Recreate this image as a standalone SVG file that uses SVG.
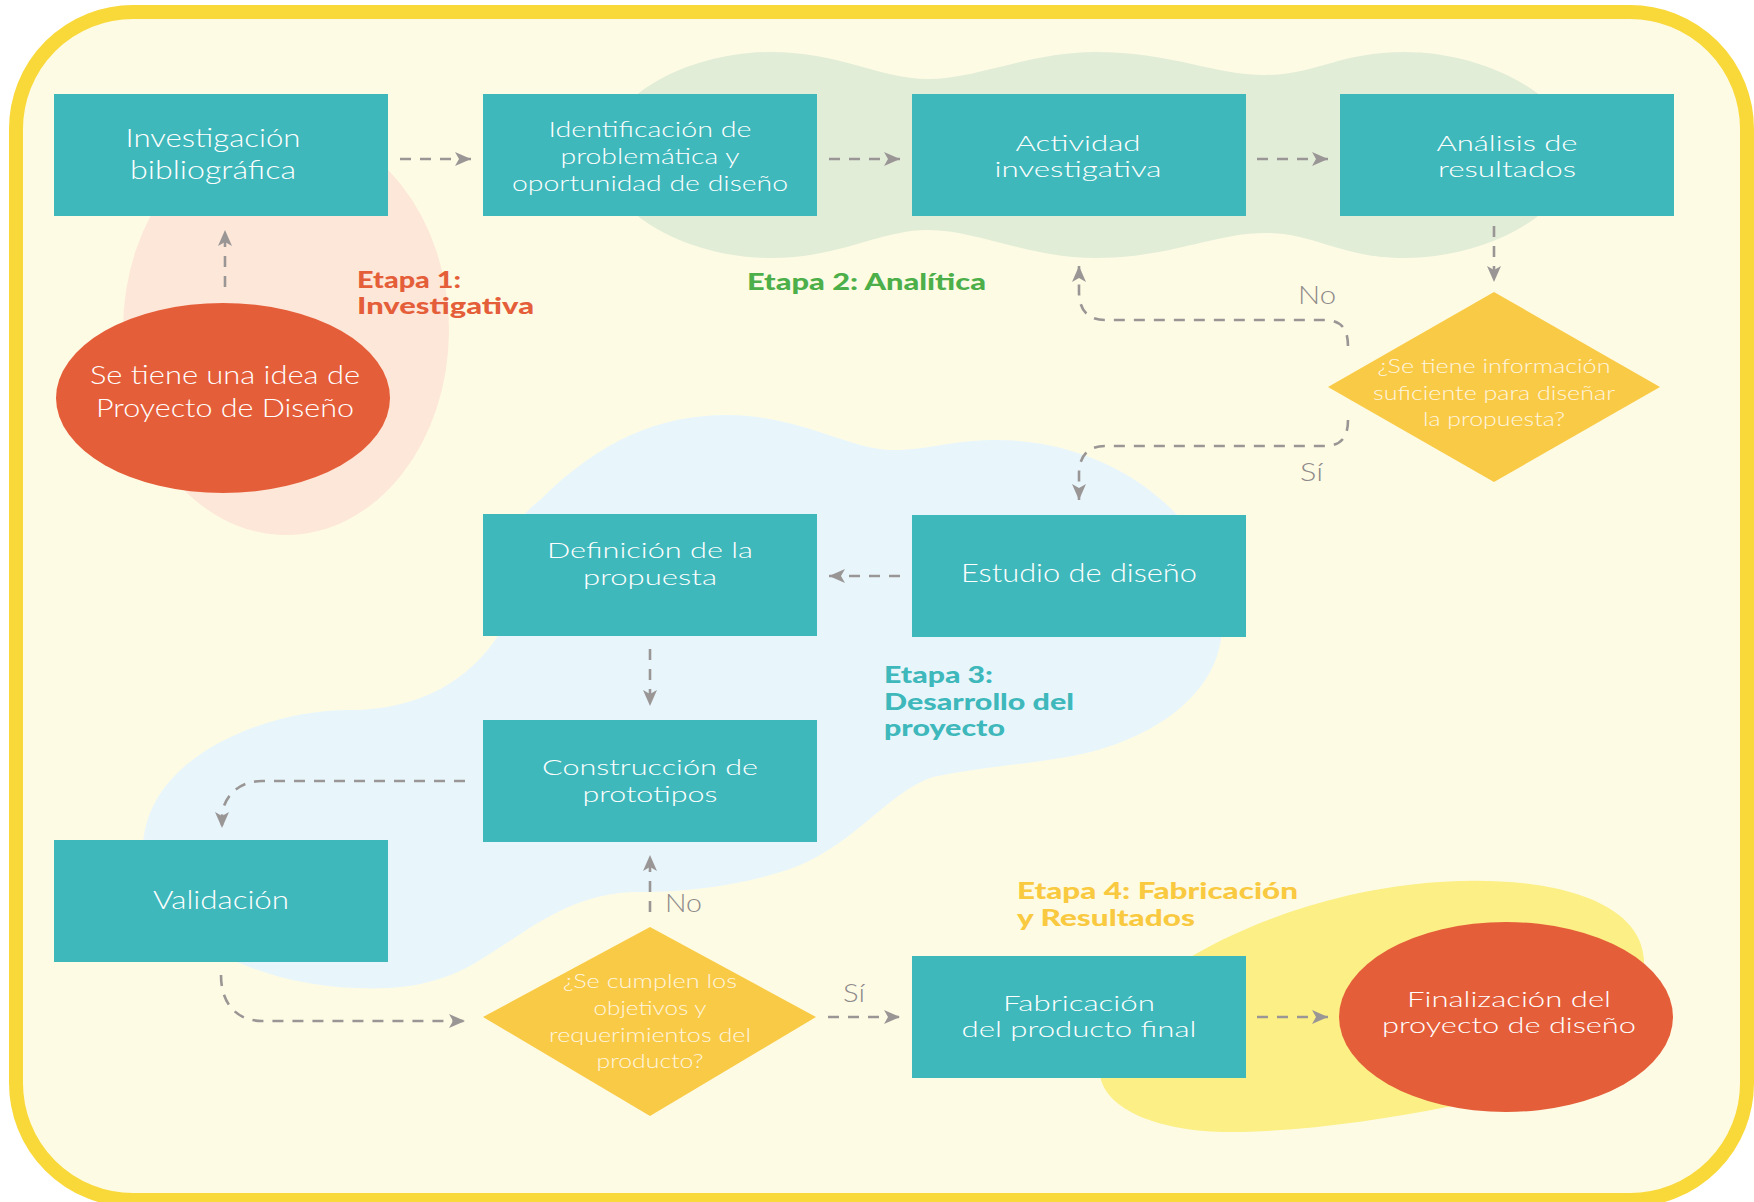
<svg xmlns="http://www.w3.org/2000/svg" width="1754" height="1202" viewBox="0 0 1754 1202">
<defs>
<style>
.box{fill:#3EB8BB}
.oval{fill:#E55E3A}
.dia{fill:#F9CA46}
.nt{font-family:Lato,'Open Sans','Noto Sans',sans-serif;font-weight:300;font-size:25px;fill:#FFFFFF;text-anchor:middle}
.ns{font-family:Lato,'Open Sans','Noto Sans',sans-serif;font-weight:300;font-size:22px;fill:#FFFFFF;text-anchor:middle}
.dt{font-family:Lato,'Open Sans','Noto Sans',sans-serif;font-weight:300;font-size:20px;fill:#FFF6E0;text-anchor:middle}
.lab{font-family:Lato,'Open Sans','Noto Sans',sans-serif;font-weight:300;font-size:25px;fill:#8E8A8A}
.stage{font-family:Lato,'Open Sans','Noto Sans',sans-serif;font-weight:900;font-size:22px}
.con{fill:none;stroke:#9A9696;stroke-width:2.6;stroke-dasharray:11 9;marker-end:url(#arr)}
</style>
<marker id="arr" markerUnits="userSpaceOnUse" markerWidth="18" markerHeight="14" refX="16" refY="7" orient="auto">
<path d="M0,0 L16,7 L0,14 L4,7 Z" fill="#9A9696"/>
</marker>
</defs>
<rect width="1754" height="1202" fill="#FFFFFF"/>
<rect x="16" y="12" width="1731" height="1188" rx="117" ry="117" fill="#FEFBE4" stroke="#F9D83A" stroke-width="14"/>

<g id="blobs">
<ellipse cx="286" cy="330" rx="163" ry="205" fill="#FDE7D8"/>
<path d="M604,155 C604,95 690,52 771,52 C840,52 880,79 928,79 C976,79 1030,52 1095,52 C1170,52 1215,75 1265,75 C1315,75 1340,52 1404,52 C1490,52 1575,100 1575,155 C1575,210 1490,258 1404,258 C1340,258 1315,233 1265,233 C1215,233 1170,258 1095,258 C1030,258 976,230 928,230 C880,230 840,258 771,258 C690,258 604,215 604,155 Z" fill="#E2EDD8"/>
<path d="M727,415 C800,415 850,450 893,450 C930,450 950,440 997,440 C1130,440 1230,540 1222,625 C1222,700 1140,745 1067,757 C1020,765 975,768 933,777 C890,790 850,850 787,870 C740,885 690,892 640,892 C570,892 530,930 480,960 C440,985 400,990 357,988 C250,985 143,930 143,850 C143,760 260,710 350,710 C420,710 470,680 500,633 C510,560 500,530 540,500 C600,440 660,415 727,415 Z" fill="#E8F6FC"/>
<path d="M1100,1075 C1090,1010 1200,930 1350,895 C1480,865 1640,880 1644,960 C1648,1040 1560,1090 1447,1107 C1380,1120 1300,1132 1230,1132 C1160,1132 1105,1110 1100,1075 Z" fill="#FBEF85"/>
</g>

<g id="stage-labels">
<text class="stage" fill="#E55E3A" x="357" y="288" textLength="104" lengthAdjust="spacingAndGlyphs">Etapa 1:</text>
<text class="stage" fill="#E55E3A" x="357" y="314" textLength="177" lengthAdjust="spacingAndGlyphs">Investigativa</text>
<text class="stage" fill="#4DAF4A" x="747" y="290" textLength="239" lengthAdjust="spacingAndGlyphs">Etapa 2: Analítica</text>
<text class="stage" fill="#3EB8BB" x="884" y="683" textLength="109" lengthAdjust="spacingAndGlyphs">Etapa 3:</text>
<text class="stage" fill="#3EB8BB" x="884" y="710" textLength="190" lengthAdjust="spacingAndGlyphs">Desarrollo del</text>
<text class="stage" fill="#3EB8BB" x="884" y="736" textLength="121" lengthAdjust="spacingAndGlyphs">proyecto</text>
<text class="stage" fill="#F9C940" x="1017" y="899" textLength="281" lengthAdjust="spacingAndGlyphs">Etapa 4: Fabricación</text>
<text class="stage" fill="#F9C940" x="1017" y="926" textLength="178" lengthAdjust="spacingAndGlyphs">y Resultados</text>
</g>

<g id="connectors">
<path class="con" d="M225,287 L225,230"/>
<path class="con" d="M400,159 L471,159"/>
<path class="con" d="M829,159 L900,159"/>
<path class="con" d="M1257,159 L1328,159"/>
<path class="con" d="M1494,226 L1494,282"/>
<path class="con" d="M1348,346 C1348,330 1342,320 1325,320 L1105,320 C1088,320 1079,310 1079,292 L1079,266"/>
<path class="con" d="M1348,420 C1348,436 1342,446 1325,446 L1105,446 C1088,446 1079,456 1079,474 L1079,500"/>
<path class="con" d="M900,576 L829,576"/>
<path class="con" d="M650,649 L650,706"/>
<path class="con" d="M465,781 L262,781 C238,781 222,798 222,818 L222,828"/>
<path class="con" d="M221,975 C221,1005 238,1021 262,1021 L465,1021"/>
<path class="con" d="M650,912 L650,855"/>
<path class="con" d="M828,1017 L900,1017"/>
<path class="con" d="M1257,1017 L1328,1017"/>
<text class="lab" x="1298" y="304" textLength="38" lengthAdjust="spacingAndGlyphs">No</text>
<text class="lab" x="1300" y="481" textLength="23" lengthAdjust="spacingAndGlyphs">Sí</text>
<text class="lab" x="665" y="912" textLength="37" lengthAdjust="spacingAndGlyphs">No</text>
<text class="lab" x="843" y="1002" textLength="22" lengthAdjust="spacingAndGlyphs">Sí</text>
</g>

<g id="n-idea">
<ellipse class="oval" cx="223" cy="398" rx="167" ry="95"/>
<text class="nt" font-size="26" x="225" y="384" textLength="270" lengthAdjust="spacingAndGlyphs">Se tiene una idea de</text>
<text class="nt" font-size="26" x="225" y="417" textLength="258" lengthAdjust="spacingAndGlyphs">Proyecto de Diseño</text>
</g>
<g id="n-investigacion">
<rect class="box" x="54" y="94" width="334" height="122"/>
<text class="nt" x="213" y="147" textLength="175" lengthAdjust="spacingAndGlyphs">Investigación</text>
<text class="nt" x="213" y="179" textLength="166" lengthAdjust="spacingAndGlyphs">bibliográfica</text>
</g>
<g id="n-identificacion">
<rect class="box" x="483" y="94" width="334" height="122"/>
<text class="ns" x="650" y="137" textLength="203" lengthAdjust="spacingAndGlyphs">Identificación de</text>
<text class="ns" x="650" y="164" textLength="179" lengthAdjust="spacingAndGlyphs">problemática y</text>
<text class="ns" x="650" y="191" textLength="276" lengthAdjust="spacingAndGlyphs">oportunidad de diseño</text>
</g>
<g id="n-actividad">
<rect class="box" x="912" y="94" width="334" height="122"/>
<text class="ns" x="1078" y="151" textLength="125" lengthAdjust="spacingAndGlyphs">Actividad</text>
<text class="ns" x="1078" y="177" textLength="167" lengthAdjust="spacingAndGlyphs">investigativa</text>
</g>
<g id="n-analisis">
<rect class="box" x="1340" y="94" width="334" height="122"/>
<text class="ns" x="1507" y="151" textLength="141" lengthAdjust="spacingAndGlyphs">Análisis de</text>
<text class="ns" x="1507" y="177" textLength="138" lengthAdjust="spacingAndGlyphs">resultados</text>
</g>
<g id="n-decision1">
<polygon class="dia" points="1494,292 1660,387 1494,482 1328,387"/>
<text class="dt" x="1494" y="373" textLength="233" lengthAdjust="spacingAndGlyphs">¿Se tiene información</text>
<text class="dt" x="1494" y="400" textLength="242" lengthAdjust="spacingAndGlyphs">suficiente para diseñar</text>
<text class="dt" x="1494" y="426" textLength="142" lengthAdjust="spacingAndGlyphs">la propuesta?</text>
</g>
<g id="n-estudio">
<rect class="box" x="912" y="515" width="334" height="122"/>
<text class="nt" x="1079" y="582" textLength="236" lengthAdjust="spacingAndGlyphs">Estudio de diseño</text>
</g>
<g id="n-definicion">
<rect class="box" x="483" y="514" width="334" height="122"/>
<text class="ns" x="650" y="558" textLength="206" lengthAdjust="spacingAndGlyphs">Definición de la</text>
<text class="ns" x="650" y="585" textLength="134" lengthAdjust="spacingAndGlyphs">propuesta</text>
</g>
<g id="n-construccion">
<rect class="box" x="483" y="720" width="334" height="122"/>
<text class="ns" x="650" y="775" textLength="216" lengthAdjust="spacingAndGlyphs">Construcción de</text>
<text class="ns" x="650" y="802" textLength="135" lengthAdjust="spacingAndGlyphs">prototipos</text>
</g>
<g id="n-validacion">
<rect class="box" x="54" y="840" width="334" height="122"/>
<text class="nt" font-size="26" x="221" y="909" textLength="136" lengthAdjust="spacingAndGlyphs">Validación</text>
</g>
<g id="n-decision2">
<polygon class="dia" points="650,927 816,1017 650,1116 483,1017"/>
<text class="dt" x="650" y="988" textLength="174" lengthAdjust="spacingAndGlyphs">¿Se cumplen los</text>
<text class="dt" x="650" y="1015" textLength="113" lengthAdjust="spacingAndGlyphs">objetivos y</text>
<text class="dt" x="650" y="1042" textLength="202" lengthAdjust="spacingAndGlyphs">requerimientos del</text>
<text class="dt" x="650" y="1068" textLength="107" lengthAdjust="spacingAndGlyphs">producto?</text>
</g>
<g id="n-fabricacion">
<rect class="box" x="912" y="956" width="334" height="122"/>
<text class="ns" x="1079" y="1011" textLength="152" lengthAdjust="spacingAndGlyphs">Fabricación</text>
<text class="ns" x="1079" y="1037" textLength="235" lengthAdjust="spacingAndGlyphs">del producto final</text>
</g>
<g id="n-finalizacion">
<ellipse class="oval" cx="1506" cy="1017" rx="167" ry="95"/>
<text class="ns" x="1509" y="1007" textLength="204" lengthAdjust="spacingAndGlyphs">Finalización del</text>
<text class="ns" x="1509" y="1033" textLength="254" lengthAdjust="spacingAndGlyphs">proyecto de diseño</text>
</g>
</svg>
